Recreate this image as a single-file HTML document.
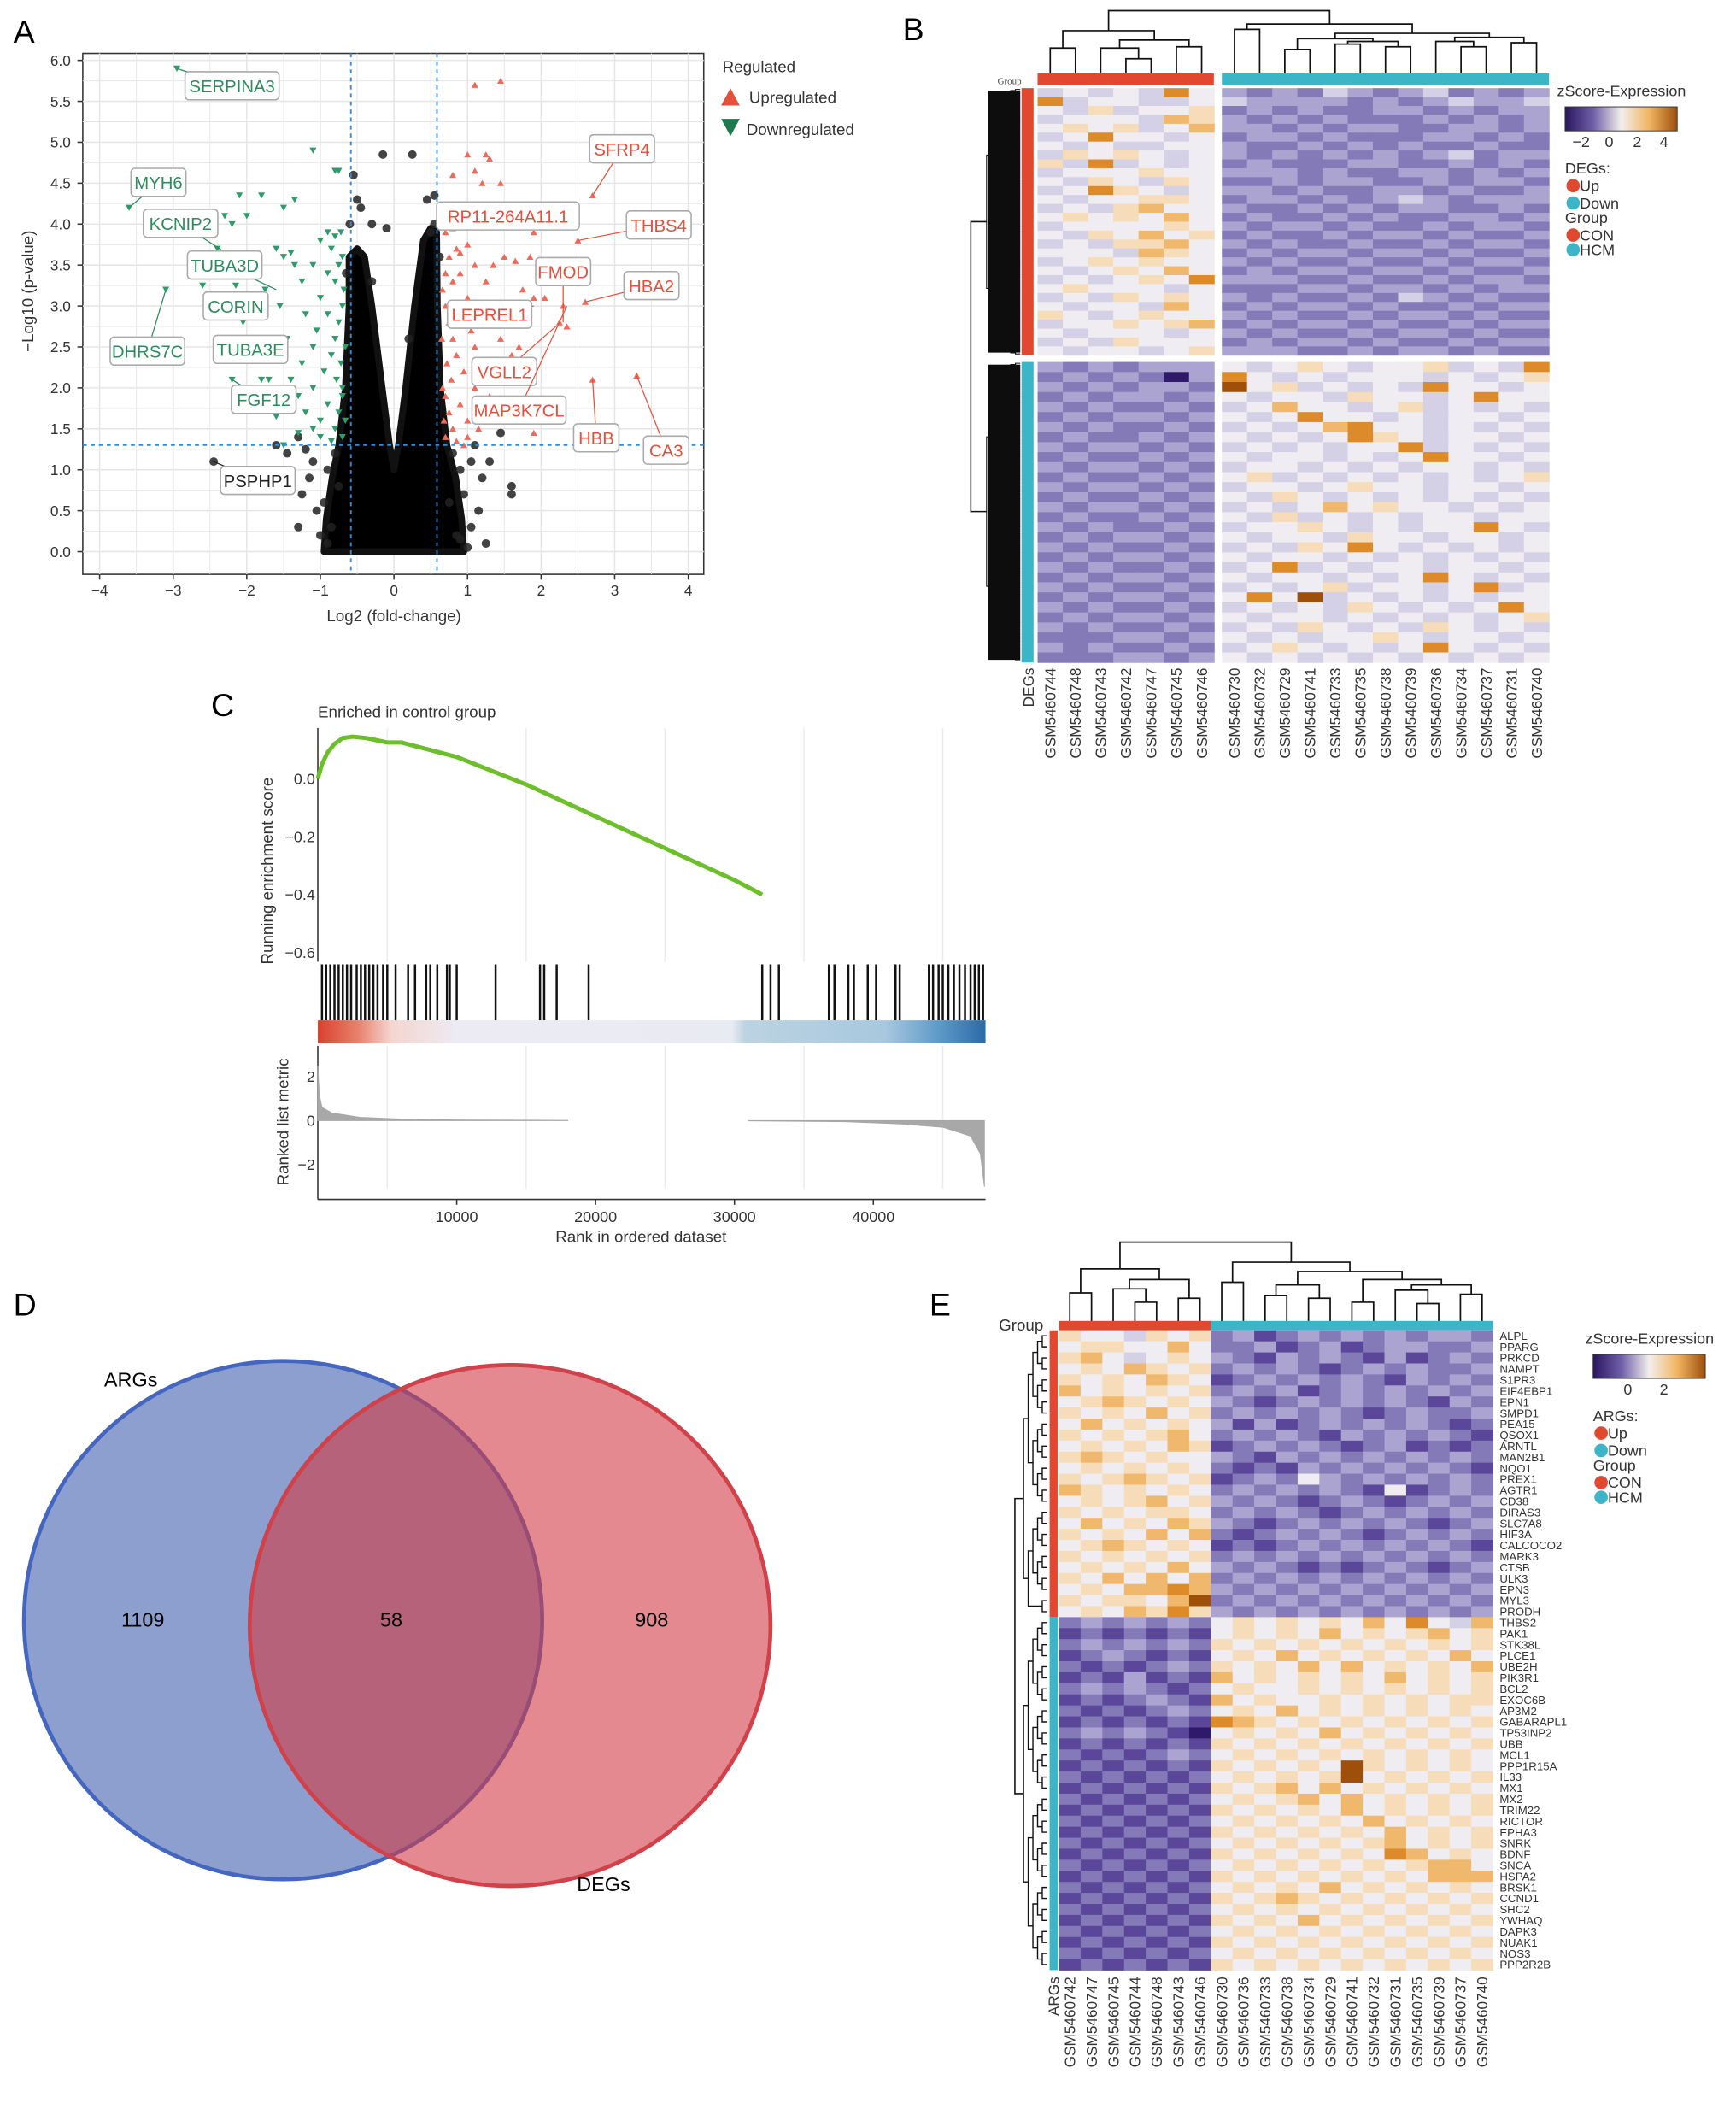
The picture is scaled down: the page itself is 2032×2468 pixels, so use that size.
<!DOCTYPE html>
<html><head><meta charset="utf-8"><title>Figure</title>
<style>
html,body{margin:0;padding:0;background:#fff;}
svg{display:block;font-family:"Liberation Sans",sans-serif;}
</style></head>
<body>
<svg id="fig" width="2032" height="2468" viewBox="0 0 1300 1579" preserveAspectRatio="none" xmlns="http://www.w3.org/2000/svg">
<rect x="0" y="0" width="1300" height="1579" fill="#fff"/>
<text x="10" y="32" font-size="24">A</text>
<text x="676" y="30" font-size="24">B</text>
<text x="158" y="536" font-size="24">C</text>
<text x="10" y="985" font-size="24">D</text>
<text x="696" y="985" font-size="24">E</text>

<g id="pA"></g>
<g id="pB"></g>
<g id="pC"></g>
<g id="pD">
  <circle cx="212" cy="1213" r="194" fill="#3f5fae" fill-opacity="0.6" stroke="#4466c0" stroke-width="3"/>
  <circle cx="382" cy="1217" r="195" fill="#d23a44" fill-opacity="0.6" stroke="#d0414a" stroke-width="3"/>
  <text x="98" y="1038" font-size="15" text-anchor="middle">ARGs</text>
  <text x="452" y="1416" font-size="15" text-anchor="middle">DEGs</text>
  <text x="107" y="1218" font-size="15" text-anchor="middle">1109</text>
  <text x="293" y="1218" font-size="15" text-anchor="middle">58</text>
  <text x="488" y="1218" font-size="15" text-anchor="middle">908</text>
</g>
<g id="pE"></g>
</svg>
<script>
// ================= DATA =================
const greenPts = [[-0.7,3.6],[-0.75,3.5],[-0.8,3.3],[-0.85,3.7],[-0.9,3.4],[-0.7,3.0],[-0.75,2.8],[-0.8,2.6],[-0.9,2.9],[-1.0,3.1],[-1.05,2.7],[-0.72,2.3],[-0.78,2.1],[-0.85,2.4],[-0.95,2.2],[-1.1,2.5],[-1.2,2.9],[-0.7,1.9],[-0.75,1.7],[-0.8,1.5],[-0.9,1.8],[-1.0,1.6],[-1.1,2.0],[-1.25,2.3],[-1.3,1.9],[-0.7,1.4],[-0.85,1.35],[-1.0,1.4],[-1.2,1.7],[-1.4,2.1],[-0.72,3.9],[-0.8,3.85],[-0.9,3.9],[-1.0,3.8],[-1.1,3.5],[-1.25,3.3],[-1.35,3.5],[-1.5,3.6],[-1.55,3.0],[-1.45,2.6],[-1.6,2.4],[-1.7,2.1],[-1.75,3.2],[-1.9,3.1],[-2.05,2.8],[-2.15,3.25],[-2.6,3.25],[-1.4,3.65],[-1.6,3.7],[-2.0,4.1],[-2.2,4.0],[-1.8,4.35],[-2.1,4.35],[-1.35,4.3],[-0.75,4.65],[-0.8,4.65],[-1.1,4.9],[-1.5,4.2],[-1.55,1.75],[-1.6,1.65],[-2.2,2.1],[-1.8,2.1],[-1.1,1.5],[-1.3,1.45],[-2.95,5.9],[-3.6,4.2],[-3.1,3.2],[-2.3,4.1],[-2.4,3.7],[-1.5,1.3],[-0.68,3.2],[-0.66,2.5],[-0.7,2.0],[-0.66,1.6]];
const redPts = [[0.7,3.9],[0.75,3.6],[0.8,3.3],[0.85,3.7],[0.9,3.4],[0.7,3.0],[0.75,2.8],[0.8,2.6],[0.9,2.9],[1.0,3.1],[1.05,2.7],[0.72,2.3],[0.78,2.1],[0.85,2.4],[0.95,2.2],[1.1,2.5],[1.2,2.9],[0.7,1.9],[0.75,1.7],[0.8,1.5],[0.9,1.8],[1.0,1.6],[1.1,2.0],[1.25,2.3],[1.3,1.9],[0.7,1.4],[0.85,1.35],[1.0,1.4],[1.2,1.7],[1.4,2.1],[0.8,3.95],[0.9,3.65],[1.0,3.75],[1.1,3.5],[1.25,3.3],[1.35,3.5],[1.5,3.6],[1.55,3.0],[1.45,2.6],[1.6,2.4],[1.7,2.5],[1.75,3.2],[1.9,3.1],[2.05,3.1],[1.85,3.6],[1.65,3.55],[1.9,3.9],[1.3,4.0],[1.4,4.2],[1.1,4.65],[1.2,4.5],[1.3,4.8],[1.45,4.5],[0.8,4.6],[1.1,5.7],[1.45,5.75],[1.0,4.85],[1.25,4.85],[2.25,2.8],[2.35,2.75],[2.3,3.0],[1.9,1.45],[2.7,4.35],[2.5,3.8],[2.6,3.05],[2.7,2.1],[3.3,2.15],[1.15,1.5],[0.95,1.3],[0.65,2.6],[0.66,3.2],[0.66,2.0],[0.68,1.6],[0.7,3.4]];
const blackPts = [[-0.55,4.6],[-0.5,4.3],[-0.45,4.2],[-0.3,4.0],[-0.15,4.85],[0.25,4.85],[0.45,4.3],[0.55,4.35],[0.55,4.0],[-2.45,1.1],[-1.6,1.3],[-1.45,1.2],[-1.3,1.4],[-1.2,1.25],[-1.15,0.9],[-1.25,0.7],[-1.1,1.1],[-1.3,0.3],[-1.0,0.2],[1.05,1.1],[1.3,1.1],[1.2,0.9],[1.45,1.45],[1.6,0.8],[1.6,0.7],[1.0,0.05],[1.25,0.1],[1.15,0.5],[1.05,0.3],[-0.3,3.3],[-0.1,3.95],[0.2,2.6],[-1.05,0.5],[0.95,0.7],[1.1,1.3],[-0.9,1.0],[-0.95,0.6],[-0.85,0.3],[0.9,1.0],[0.85,0.2],[-0.65,3.4],[0.62,3.6],[-0.6,4.0],[0.5,3.9],[-0.8,1.2],[-0.75,0.8],[0.8,1.2],[0.75,0.6],[-0.9,0.1],[0.9,0.15]];
const massOutline = [[-0.95,0],[-0.92,0.4],[-0.84,0.9],[-0.75,1.3],[-0.66,2.0],[-0.61,3.0],[-0.61,3.6],[-0.5,3.7],[-0.4,3.6],[-0.3,3.0],[-0.16,2.0],[-0.06,1.3],[0,1.0],[0.06,1.3],[0.16,2.0],[0.28,3.0],[0.4,3.8],[0.5,3.95],[0.58,3.9],[0.59,3.0],[0.63,2.0],[0.72,1.3],[0.84,0.9],[0.92,0.4],[0.95,0]];
const volcanoXTicks = [-4,-3,-2,-1,0,1,2,3,4];
const volcanoYTicks = [0,0.5,1,1.5,2,2.5,3,3.5,4,4.5,5,5.5,6];
const geneLabels = ["SERPINA3","MYH6","KCNIP2","TUBA3D","CORIN","DHRS7C","TUBA3E","FGF12","PSPHP1","SFRP4","RP11-264A11.1","THBS4","FMOD","HBA2","LEPREL1","VGLL2","MAP3K7CL","HBB","CA3"];
const labelPtX = [-2.95,-3.6,-2.2,-1.6,-2.0,-3.1,-1.8,-2.2,-2.45,2.7,1.6,2.5,2.3,2.6,1.9,2.2,2.35,2.7,3.3];
const labelPtY = [5.9,4.2,3.6,3.2,2.9,3.2,2.6,2.1,1.1,4.35,4.0,3.8,2.8,3.05,3.0,2.75,3.0,2.1,2.15];
const labelBoxX = [-2.2,-3.2,-2.9,-2.3,-2.15,-3.35,-1.95,-1.77,-1.85,3.1,1.55,3.6,2.3,3.5,1.3,1.5,1.7,2.75,3.7];
const labelBoxY = [5.69,4.51,4.01,3.5,3.0,2.45,2.47,1.86,0.87,4.92,4.1,3.99,3.42,3.25,2.9,2.2,1.73,1.39,1.24];
const labelGroup = ["d","d","d","d","d","d","d","d","n","u","u","u","u","u","u","u","u","u","u"];

const bSamples = ["GSM5460744","GSM5460748","GSM5460743","GSM5460742","GSM5460747","GSM5460745","GSM5460746","GSM5460730","GSM5460732","GSM5460729","GSM5460741","GSM5460733","GSM5460735","GSM5460738","GSM5460739","GSM5460736","GSM5460734","GSM5460737","GSM5460731","GSM5460740"];
const bUpRows = ["45454853232432342323","84554454333323234334","54645562323223323233","45554763232322232323","56564573323233223323","45855452332322233232","54544553223232322322","46565453232323234233","64845452322233223232","45556553332322332323","54654652232332232332","45865453323223323223","54556652332323432333","45467553223232332232","56565752322323223323","45555653233232232332","54657562322323323223","45466753232232232332","55547652323323323223","45656553232232232332","54565752323323323223","45456583332232232332","56555452223323323233","45465653232232432322","54554752323323223233","65456553232232332322","45565672323323223233","54555453232232332322","45465552323323223233","54554563332232332322"];
const bDownRows = ["32323335456545564548","23232038545455545456","32323329564545485545","23233235455465545855","32322324575545645454","23233235458554545545","32322324545785545454","23223235454586545545","32332324545455845454","23223235455454585545","32332324554545455454","23223235645454545456","32332324554565545545","23223235465454545454","32332324545756554545","23223235464545455455","32322324556545455854","23233235455465545545","32322324546585454545","23233235455454545454","32322324584545545545","23233235455454585454","32322324545645545845","23233235859454545455","32322324545465454585","23233235455454545456","32322324546545465454","22233235454556545545","32322324565454585454","22233235454545454545"];
const bTree = [[[0,1,36],[[2,[3,4,44],36],[5,6,35],30],23],[[7,8,22],[[[9,10,37],[[11,12,33],[13,14,35],31],29],[[15,[16,17,35],31],[18,19,32],28],25],18],8];

const eSamples = ["GSM5460742","GSM5460747","GSM5460745","GSM5460744","GSM5460748","GSM5460743","GSM5460746","GSM5460730","GSM5460736","GSM5460733","GSM5460738","GSM5460734","GSM5460729","GSM5460741","GSM5460732","GSM5460731","GSM5460735","GSM5460739","GSM5460737","GSM5460740"];
const eGenes = ["ALPL","PPARG","PRKCD","NAMPT","S1PR3","EIF4EBP1","EPN1","SMPD1","PEA15","QSOX1","ARNTL","MAN2B1","NQO1","PREX1","AGTR1","CD38","DIRAS3","SLC7A8","HIF3A","CALCOCO2","MARK3","CTSB","ULK3","EPN3","MYL3","PRODH","THBS2","PAK1","STK38L","PLCE1","UBE2H","PIK3R1","BCL2","EXOC6B","AP3M2","GABARAPL1","TP53INP2","UBB","MCL1","PPP1R15A","IL33","MX1","MX2","TRIM22","RICTOR","EPHA3","SNRK","BDNF","SNCA","HSPA2","BRSK1","CCND1","SHC2","YWHAQ","DAPK3","NUAK1","NOS3","PPP2R2B"];
const eUpCount = 26;
const eRows = ["65546562312323232332","56655752231231233223","67545653213232131232","56576562323212323223","65657651232323213232","75656562323123232323","56765653212323232132","65657562323232123223","57565653131232323212","65656752323213232321","56565761232321231212","67656553213232323232","56565652121323232321","65676561232532323232","76565652323232151232","56567563232123212323","65656652323212323232","57565763212323232123","65657572123232123232","56765651212323232321","65656562323232323232","56565753232121232123","65757572323232323232","56577873232323232323","65665792323232323232","56576863232323232323","23232325656565758547","12121215656575656756","23232326565656565656","12321215657565656575","21212326565757565657","12131217565656575656","23232125655656565656","12123217565565656566","21212325657565656565","12121218765656565656","23232105656575656565","12121216565656565656","21212325656565656565","12121216565659656565","21212125656569565656","12121216567575656565","21212125656757565656","12121216565657565656","21212125656565756565","12121216565656575656","21212125656565675656","12121216565656587565","21212125656565656775","12121216565656565777","21212125656575656565","12121216567656565656","21212125656565656565","12121216565756565656","21212125656565656565","12121216565656565656","21212125656565656565","12121216565656565656"];
const eTree = [[[0,1,968],[[2,[3,4,975],965],[5,6,972],958],950],[[7,8,960],[[[9,10,970],[11,12,972],962],[[13,14,975],[[15,[16,17,976],966],[18,19,969],962],958],952],945],930];

const esRank = [0,300,700,1200,1800,2500,3500,5000,6000,8000,10000,15000,20000,25000,30000,32000];
const esValue = [0,0.05,0.09,0.12,0.14,0.145,0.14,0.125,0.125,0.1,0.075,-0.02,-0.13,-0.24,-0.35,-0.4];
const hitRanks = [300,600,900,1200,1500,1800,2100,2400,2800,3100,3400,3700,4000,4300,4700,5000,5600,6500,7000,7800,8100,8600,9300,9500,10000,12800,16000,16300,17200,19500,32000,32600,33200,36800,37200,38200,38600,39600,40200,41600,41900,44000,44300,44700,45000,45400,45800,46200,46600,47000,47300,47600,47900];
const metricRankLeft = [0,100,300,1000,3000,6000,10000,18000];
const metricValLeft = [2.5,1.2,0.6,0.35,0.15,0.07,0.03,0.01];
const metricRankRight = [31000,38000,42000,45000,47000,47700,48000];
const metricValRight = [-0.01,-0.05,-0.15,-0.3,-0.7,-1.5,-3.0];
const rankTicks = [10000,20000,30000,40000];
const esTicks = [0.0,-0.2,-0.4,-0.6];
const metricTicks = [2,0,-2];

// ================= HELPERS =================
const NS = "http://www.w3.org/2000/svg";
function mk(tag, attrs, parent){const e=document.createElementNS(NS,tag);for(const k in attrs)e.setAttribute(k,attrs[k]);parent.appendChild(e);return e;}
const heatColors = ["#2e1a68","#5a479a","#857ab8","#aca4d0","#d4d0e6","#efedf1","#f6dcb8","#f0b86c","#dc8a2a","#9e4f0a"];

// ================= PANEL A =================
const gA = document.getElementById("pA");
const xA = v => 295 + v*55.1;
const yA = v => 413 - v*61.3;
let e;
e = mk("rect",{x:62,y:40,width:465,height:390,fill:"#fff",stroke:"#333","stroke-width":1},gA);


for (let v=-4; v<=4; v+=0.5){
  e = mk("line",{x1:xA(v),x2:xA(v),y1:40,y2:430,stroke:"#e6e6e6","stroke-width":Number.isInteger(v)?1:0.6},gA);
  
  
}
for (let v=0; v<=6; v+=0.25){
  e = mk("line",{x1:62,x2:527,y1:yA(v),y2:yA(v),stroke:"#e6e6e6","stroke-width":(v*2)%1===0?1:0.6},gA);
  
  
}
volcanoYTicks.forEach(t=>{
  e = mk("text",{x:53,y:yA(t)+4,"font-size":11,"text-anchor":"end",fill:"#333"},gA);
  e.textContent = t.toFixed(1);
  
  
  e = mk("line",{x1:58,x2:62,y1:yA(t),y2:yA(t),stroke:"#333"},gA);
  
  
});
volcanoXTicks.forEach(t=>{
  e = mk("text",{x:xA(t),y:446,"font-size":11,"text-anchor":"middle",fill:"#333"},gA);
  e.textContent = t<0 ? "\u2212"+Math.abs(t) : String(t);
  
  
  e = mk("line",{x1:xA(t),x2:xA(t),y1:430,y2:434,stroke:"#333"},gA);
  
  
});
e = mk("text",{x:295,y:465,"font-size":12,"text-anchor":"middle",fill:"#333"},gA);
e.textContent = "Log2 (fold-change)";


e = mk("text",{x:0,y:0,"font-size":12,"text-anchor":"middle",fill:"#333",transform:"translate(25,218) rotate(-90)"},gA);
e.textContent = "\u2212Log10 (p-value)";


e = mk("polygon",{points:massOutline.map(p=>xA(p[0])+","+yA(p[1])).join(" "),fill:"#000",stroke:"#111","stroke-width":5,"stroke-linejoin":"round"},gA);


blackPts.forEach(p=>{
  e = mk("circle",{cx:xA(p[0]),cy:yA(p[1]),r:3.2,fill:"#222","fill-opacity":0.85},gA);
  
  
});
greenPts.forEach(p=>{
  const x=xA(p[0]),y=yA(p[1]);
  e = mk("polygon",{points:`${x-2.6},${y-2.2} ${x+2.6},${y-2.2} ${x},${y+2.4}`,fill:"#2f9b6b"},gA);
  
  
});
redPts.forEach(p=>{
  const x=xA(p[0]),y=yA(p[1]);
  e = mk("polygon",{points:`${x-2.6},${y+2.2} ${x+2.6},${y+2.2} ${x},${y-2.4}`,fill:"#ee6a5a"},gA);
  
  
});
[-0.585,0.585].forEach(v=>{
  e = mk("line",{x1:xA(v),x2:xA(v),y1:40,y2:430,stroke:"#3a8ad0","stroke-dasharray":"3,3","stroke-width":1.2},gA);
  
  
});
e = mk("line",{x1:62,x2:527,y1:yA(1.301),y2:yA(1.301),stroke:"#3a8ad0","stroke-dasharray":"3,3","stroke-width":1.2},gA);


geneLabels.forEach((name,i)=>{
  const col = labelGroup[i]==="d" ? "#2e8b5e" : labelGroup[i]==="u" ? "#e4503c" : "#222";
  const bx = xA(labelBoxX[i]), by = yA(labelBoxY[i]);
  const w = name.length*7.3+12, h = 21;
  e = mk("line",{x1:xA(labelPtX[i]),y1:yA(labelPtY[i]),x2:bx,y2:by,stroke:col,"stroke-width":0.8},gA);
  
  
  e = mk("rect",{x:bx-w/2,y:by-h/2,width:w,height:h,rx:3,fill:"#fff",stroke:"#aaa","stroke-width":1},gA);
  
  
  e = mk("text",{x:bx,y:by+5,"font-size":13,"text-anchor":"middle",fill:col},gA);
  e.textContent = name;
  
  
});
e = mk("text",{x:541,y:54,"font-size":12,fill:"#333"},gA);
e.textContent = "Regulated";


e = mk("polygon",{points:"540,79 554,79 547,66",fill:"#e4503c"},gA);


e = mk("text",{x:561,y:77,"font-size":12,fill:"#333"},gA);
e.textContent = "Upregulated";


e = mk("polygon",{points:"540,89 554,89 547,102",fill:"#1e7a4e"},gA);


e = mk("text",{x:559,y:101,"font-size":12,fill:"#333"},gA);
e.textContent = "Downregulated";



// ================= TREE DRAW =================
function drawColTree(node, leafX, g, bottomY){
  if (typeof node === "number") return {x:leafX(node), y:bottomY};
  const L = drawColTree(node[0],leafX,g,bottomY), R = drawColTree(node[1],leafX,g,bottomY), h=node[2];
  const p = mk("path",{d:`M${L.x},${L.y} V${h} H${R.x} V${R.y}`,fill:"none",stroke:"#111","stroke-width":1.1},g);
  
  
  return {x:(L.x+R.x)/2, y:h};
}
function drawRowTree(ys, g, rightX, step, sw){
  let nodes = ys.map(y=>({y:y,x:rightX}));
  let level=1;
  while(nodes.length>1){
    const next=[];
    for(let i=0;i<nodes.length;i+=2){
      if(i+1>=nodes.length){next.push(nodes[i]);continue;}
      const a=nodes[i],b=nodes[i+1],x=rightX-level*step;
      const p = mk("path",{d:`M${a.x},${a.y} H${x} V${b.y} H${b.x}`,fill:"none",stroke:"#111","stroke-width":sw},g);
      
      
      next.push({x:x,y:(a.y+b.y)/2});
    }
    nodes=next;level++;
  }
  return nodes[0];
}

// ================= PANEL B =================
const gB = document.getElementById("pB");
const bColX = i => i<7 ? 777+18.9*i : 915+18.85*(i-7);
const bColW = i => i<7 ? 18.9 : 18.85;
drawColTree(bTree, i=>bColX(i)+bColW(i)/2, gB, 55);
e = mk("rect",{x:777,y:55,width:132,height:9,fill:"#e0482f"},gB);


e = mk("rect",{x:915,y:55,width:245,height:9,fill:"#3db5c9"},gB);


e = mk("text",{x:747,y:63,"font-size":7,fill:"#444","font-family":"Liberation Serif, serif"},gB);
e.textContent = "Group";


function drawBBlock(rows, y0, y1){
  const rh=(y1-y0)/rows.length;
  rows.forEach((r,ri)=>{
    for(let c=0;c<20;c++){
      const cell = mk("rect",{x:bColX(c),y:y0+ri*rh,width:bColW(c)+0.3,height:rh+0.3,fill:heatColors[+r[c]]},gB);
      
      
    }
  });
}
drawBBlock(bUpRows,66,266);
drawBBlock(bDownRows,271,496);
e = mk("rect",{x:765,y:66,width:9,height:200,fill:"#e0482f"},gB);


e = mk("rect",{x:765,y:271,width:9,height:225,fill:"#3db5c9"},gB);


{
  const ysU=[],ysD=[];
  for(let i=0;i<128;i++){ysU.push(67+i*198/127);ysD.push(272+i*222/127);}
  const rU=drawRowTree(ysU,gB,764,3.6,0.7), rD=drawRowTree(ysD,gB,764,3.6,0.7);
  e = mk("path",{d:`M${rU.x},${rU.y} H727 V${rD.y} H${rD.x}`,fill:"none",stroke:"#111","stroke-width":1},gB);
  
  
  e = mk("rect",{x:740,y:68,width:24,height:196,fill:"#0d0d0d"},gB);
  
  
  e = mk("rect",{x:740,y:273,width:24,height:221,fill:"#0d0d0d"},gB);
  
  
}
e = mk("text",{x:0,y:0,"font-size":11,"text-anchor":"end",fill:"#333",transform:"translate(774,500) rotate(-90)"},gB);
e.textContent = "DEGs";


bSamples.forEach((s,i)=>{
  const t = mk("text",{x:0,y:0,"font-size":11,"text-anchor":"end",fill:"#333",transform:`translate(${bColX(i)+bColW(i)/2+4},500) rotate(-90)`},gB);
  t.textContent = s;
  
  
});
function legend(g, x, y, ticks, tickX, annTitle){
  let t = mk("text",{x:x-6,y:y,"font-size":11.5,fill:"#333"},g);
  t.textContent = "zScore-Expression";
  
  
  const defsId = "grad"+annTitle;
  const d = mk("defs",{},g);
  const lg = mk("linearGradient",{id:defsId,x1:0,x2:1,y1:0,y2:0},d);
  ["#2a1660","#6e5ea8","#f3efec","#f1b562","#9e4f0a"].forEach((c,i)=>mk("stop",{offset:(i/4),"stop-color":c},lg));
  t = mk("rect",{x:x,y:y+8,width:84,height:18,fill:`url(#${defsId})`,stroke:"#333","stroke-width":0.6},g);
  
  
  ticks.forEach((tk,i)=>{
    const l = mk("text",{x:tickX[i],y:y+38,"font-size":11.5,"text-anchor":"middle",fill:"#333"},g);
    l.textContent = tk;
    
    
  });
  const items=[[annTitle+":",null],["Up","#e0482f"],["Down","#3db5c9"],["Group",null],["CON","#e0482f"],["HCM","#3db5c9"]];
  const ys=[y+58,y+71,y+84,y+95,y+108,y+119];
  items.forEach((it,i)=>{
    if(it[1]){
      const c = mk("circle",{cx:x+6,cy:ys[i]-4,r:5,fill:it[1]},g);
      
      
    }
    const l = mk("text",{x:it[1]?x+11:x,y:ys[i],"font-size":11.5,fill:"#333"},g);
    l.textContent = it[0];
    
    
  });
}
legend(gB,1172,72,["\u22122","0","2","4"],[1184,1205,1226,1246],"DEGs");

// ================= PANEL E =================
const gE = document.getElementById("pE");
const eCW = 16.25, eX0=793, eY0=996, eRH=479/58;
drawColTree(eTree, i=>eX0+eCW*(i+0.5), gE, 990);
e = mk("rect",{x:793,y:989,width:eCW*7,height:7,fill:"#e0482f"},gE);


e = mk("rect",{x:793+eCW*7,y:989,width:eCW*13,height:7,fill:"#3db5c9"},gE);


e = mk("text",{x:748,y:996,"font-size":12,fill:"#333"},gE);
e.textContent = "Group";


eRows.forEach((r,ri)=>{
  for(let c=0;c<20;c++){
    const cell = mk("rect",{x:eX0+c*eCW,y:eY0+ri*eRH,width:eCW+0.3,height:eRH+0.3,fill:heatColors[+r[c]]},gE);
    
    
  }
});
e = mk("rect",{x:786,y:eY0,width:6,height:eRH*eUpCount,fill:"#e0482f"},gE);


e = mk("rect",{x:786,y:eY0+eRH*eUpCount,width:6,height:eRH*(58-eUpCount),fill:"#3db5c9"},gE);


{
  const ysU=[],ysD=[];
  for(let i=0;i<58;i++){(i<eUpCount?ysU:ysD).push(eY0+eRH*(i+0.5));}
  const rU=drawRowTree(ysU,gE,784,3.5,0.9), rD=drawRowTree(ysD,gE,784,3.5,0.9);
  e = mk("path",{d:`M${rU.x},${rU.y} H760 V${rD.y} H${rD.x}`,fill:"none",stroke:"#111","stroke-width":1},gE);
  
  
}
eGenes.forEach((g,i)=>{
  const t = mk("text",{x:1123,y:eY0+eRH*(i+0.5)+3,"font-size":8.5,fill:"#333"},gE);
  t.textContent = g;
  
  
});
e = mk("text",{x:0,y:0,"font-size":11,"text-anchor":"end",fill:"#333",transform:"translate(793,1480) rotate(-90)"},gE);
e.textContent = "ARGs";


eSamples.forEach((s,i)=>{
  const t = mk("text",{x:0,y:0,"font-size":11,"text-anchor":"end",fill:"#333",transform:`translate(${eX0+eCW*(i+0.5)+4},1480) rotate(-90)`},gE);
  t.textContent = s;
  
  
});
legend(gE,1193,1006,["0","2"],[1219,1246],"ARGs");

// ================= PANEL C =================
const gC = document.getElementById("pC");
const xC = r => 238 + r*0.0104;
const yES = v => 583 - v*217;
const yM = v => 839 - v*16.5;
[290,394,498,602,706].forEach(x=>{
  [[545,720],[783,890]].forEach(s=>{
    const l = mk("line",{x1:x,x2:x,y1:s[0],y2:s[1],stroke:"#ececec","stroke-width":1},gC);
    
    
  });
});
e = mk("text",{x:238,y:537,"font-size":12,fill:"#333"},gC);
e.textContent = "Enriched in control group";


e = mk("line",{x1:238,x2:238,y1:545,y2:720,stroke:"#333"},gC);


esTicks.forEach(t=>{
  const l = mk("text",{x:236,y:yES(t)+4,"font-size":11.5,"text-anchor":"end",fill:"#333"},gC);
  l.textContent = (t<0?"\u2212":"")+Math.abs(t).toFixed(1);
  
  
});
e = mk("text",{x:0,y:0,"font-size":12,"text-anchor":"middle",fill:"#333",transform:"translate(204,652) rotate(-90)"},gC);
e.textContent = "Running enrichment score";


e = mk("polyline",{points:esRank.map((r,i)=>xC(r)+","+yES(esValue[i])).join(" "),fill:"none",stroke:"#6cbf2a","stroke-width":3.2,"stroke-linejoin":"round"},gC);


hitRanks.forEach(r=>{
  const l = mk("line",{x1:xC(r),x2:xC(r),y1:722,y2:764,stroke:"#111","stroke-width":1.6},gC);
  
  
});
{
  const d = mk("defs",{},gC);
  const lg = mk("linearGradient",{id:"rankGrad",x1:0,x2:1,y1:0,y2:0},d);
  [[0,"#d9412e"],[0.06,"#e8816c"],[0.11,"#f5d5cf"],[0.21,"#ecebf4"],[0.62,"#e9ebf2"],[0.64,"#bcd3e2"],[0.85,"#a7c8de"],[0.93,"#5e9ac8"],[1,"#2c6aa8"]].forEach(s=>mk("stop",{offset:s[0],"stop-color":s[1]},lg));
  e = mk("rect",{x:238,y:764,width:500,height:17,fill:"url(#rankGrad)"},gC);
  
  
}
e = mk("line",{x1:238,x2:238,y1:783,y2:898,stroke:"#333"},gC);


e = mk("line",{x1:238,x2:738,y1:898,y2:898,stroke:"#333"},gC);


metricTicks.forEach(t=>{
  const l = mk("text",{x:236,y:yM(t)+4,"font-size":11.5,"text-anchor":"end",fill:"#333"},gC);
  l.textContent = (t<0?"\u2212":"")+Math.abs(t);
  
  
});
rankTicks.forEach(t=>{
  const l = mk("text",{x:xC(t),y:915,"font-size":11.5,"text-anchor":"middle",fill:"#333"},gC);
  l.textContent = t;
  
  
  const k = mk("line",{x1:xC(t),x2:xC(t),y1:898,y2:902,stroke:"#333"},gC);
  
  
});
e = mk("text",{x:480,y:930,"font-size":12,"text-anchor":"middle",fill:"#333"},gC);
e.textContent = "Rank in ordered dataset";


e = mk("text",{x:0,y:0,"font-size":12,"text-anchor":"middle",fill:"#333",transform:"translate(216,840) rotate(-90)"},gC);
e.textContent = "Ranked list metric";


{
  let d = `M${xC(metricRankLeft[0])},${yM(0)} ` + metricRankLeft.map((r,i)=>`L${xC(r)},${yM(metricValLeft[i])}`).join(" ") + ` L${xC(metricRankLeft[metricRankLeft.length-1])},${yM(0)} Z`;
  e = mk("path",{d:d,fill:"#a8a8a8",stroke:"#a8a8a8","stroke-width":0.6},gC);
  
  
  d = `M${xC(metricRankRight[0])},${yM(0)} ` + metricRankRight.map((r,i)=>`L${xC(r)},${yM(metricValRight[i])}`).join(" ") + ` L${xC(metricRankRight[metricRankRight.length-1])},${yM(0)} Z`;
  e = mk("path",{d:d,fill:"#a8a8a8",stroke:"#a8a8a8","stroke-width":0.6},gC);
  
  
}
</script>
</body></html>
